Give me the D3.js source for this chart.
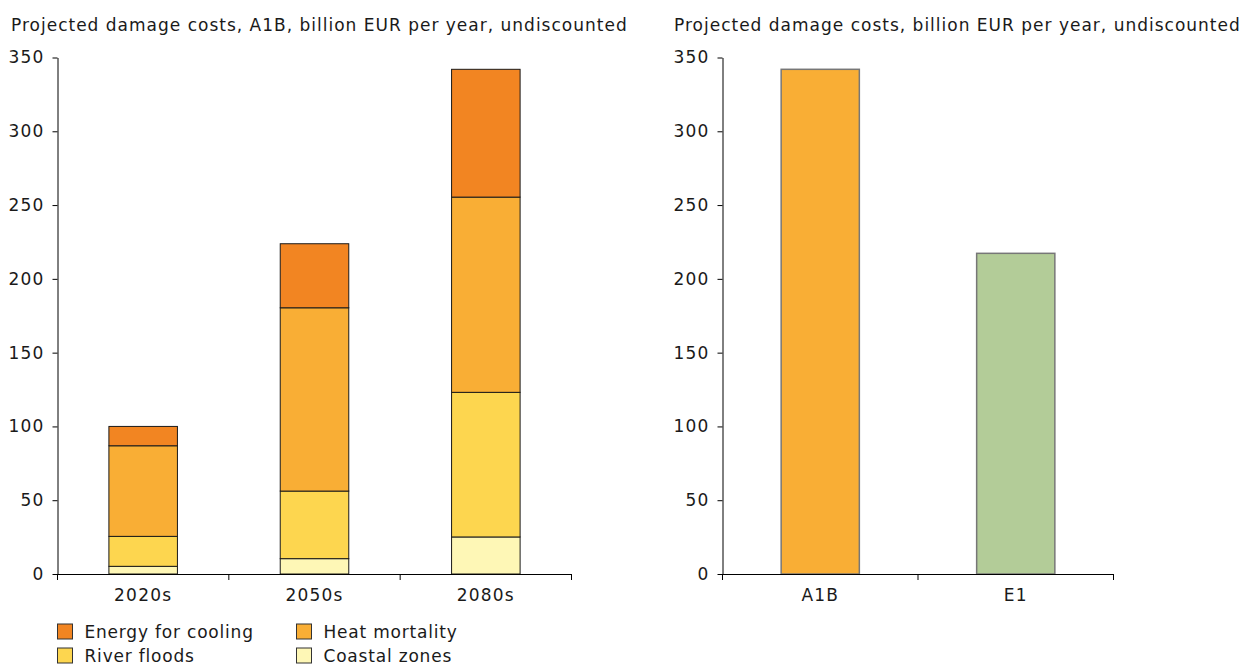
<!DOCTYPE html>
<html>
<head>
<meta charset="utf-8">
<script src="https://cdn.jsdelivr.net/npm/d3@7"></script>
<style>
  body { margin: 0; background: #fff; }
  svg text { font-family: "DejaVu Sans", Verdana, sans-serif; fill: #1a1a1a; font-size: 17px; }
  .axis path, .axis line { stroke: #000; }
  .tick text { letter-spacing: 1.2px; }
  .titulo { letter-spacing: 1px; }
  .ley text { letter-spacing: 0.8px; }
</style>
</head>
<body>
<div id="graf"></div>
<script>
// datos
periodos = ['2020s', '2050s', '2080s']
sectores = ['Coastal zones', 'River floods', 'Heat mortality', 'Energy for cooling']
coastal = [5.2, 10.4, 25.1]
river = [20.3, 45.8, 98.0]
heat = [61.4, 124.2, 132.3]
energy = [13.1, 43.4, 86.6]
colores = ['#fef7b6', '#fdd64f', '#f9ae35', '#f28522']

escenarios = ['A1B', 'E1']
totales = [342, 217.3]
colores_esc = ['#f9ae35', '#b3cc98']

ticks_y = [0, 50, 100, 150, 200, 250, 300, 350]
leyenda = ['Energy for cooling', 'Heat mortality', 'River floods', 'Coastal zones']

ancho_total = 1241
alto_total = 668

svg = d3.select('#graf').append('svg')
        .attr('width', ancho_total)
        .attr('height', alto_total)

y = d3.scaleLinear().domain([0, 350]).range([574, 57.5])

// GRAFICO IZQUIERDO (apilado)
tabla = periodos.map((p, i) => ({
  periodo: p,
  'Coastal zones': coastal[i],
  'River floods': river[i],
  'Heat mortality': heat[i],
  'Energy for cooling': energy[i]
}))
pila = d3.stack().keys(sectores)(tabla)

x1 = d3.scaleBand().domain(periodos).range([57.5, 571.5])

g1 = svg.append('g')

g1.selectAll('g.serie')
  .data(pila)
  .enter().append('g')
  .attr('class', 'serie')
  .attr('fill', (d, i) => colores[i])
  .selectAll('rect')
  .data(d => d)
  .enter().append('rect')
  .attr('x', d => x1(d.data.periodo) + x1.bandwidth() * 0.3)
  .attr('width', x1.bandwidth() * 0.4)
  .attr('y', d => y(d[1]))
  .attr('height', d => y(d[0]) - y(d[1]))
  .attr('stroke', '#1a1a1a')
  .attr('stroke-width', 1)

g1.append('g')
  .attr('class', 'axis')
  .attr('transform', 'translate(57.5,0)')
  .call(d3.axisLeft(y).tickValues(ticks_y).tickSize(5).tickSizeOuter(0))
  .call(a => a.selectAll('text').attr('x', -13))

ejeX1 = g1.append('g')
  .attr('class', 'axis')
  .attr('transform', 'translate(0,574)')
  .call(d3.axisBottom(x1).tickSize(0).tickSizeOuter(0))
ejeX1.selectAll('text').attr('y', 15)
ejeX1.selectAll('.lim')
  .data(d3.range(periodos.length + 1))
  .enter().append('line')
  .attr('x1', i => 57.5 + i * x1.step())
  .attr('x2', i => 57.5 + i * x1.step())
  .attr('y1', 0).attr('y2', 6)
  .attr('stroke', '#000')

g1.append('text')
  .attr('class', 'titulo')
  .attr('x', 11).attr('y', 31)
  .text('Projected damage costs, A1B, billion EUR per year, undiscounted')

// LEYENDA
ley = g1.selectAll('g.ley')
  .data(leyenda)
  .enter().append('g')
  .attr('class', 'ley')
  .attr('transform', (d, i) => `translate(${57.5 + (i % 2) * 239},${624 + Math.floor(i / 2) * 24})`)
ley.append('rect')
  .attr('width', 15).attr('height', 15)
  .attr('fill', d => colores[sectores.indexOf(d)])
  .attr('stroke', '#333')
ley.append('text')
  .attr('x', 27).attr('y', 14)
  .text(d => d)

// GRAFICO DERECHO
x2 = d3.scaleBand().domain(escenarios).range([722.5, 1113.5])
g2 = svg.append('g')

g2.selectAll('rect')
  .data(escenarios)
  .enter().append('rect')
  .attr('x', d => x2(d) + x2.bandwidth() * 0.3)
  .attr('width', x2.bandwidth() * 0.4)
  .attr('y', (d, i) => y(totales[i]))
  .attr('height', (d, i) => y(0) - y(totales[i]))
  .attr('fill', (d, i) => colores_esc[i])
  .attr('stroke', '#777')
  .attr('stroke-width', 1.5)

g2.append('g')
  .attr('class', 'axis')
  .attr('transform', 'translate(722.5,0)')
  .call(d3.axisLeft(y).tickValues(ticks_y).tickSize(5).tickSizeOuter(0))
  .call(a => a.selectAll('text').attr('x', -13))

ejeX2 = g2.append('g')
  .attr('class', 'axis')
  .attr('transform', 'translate(0,574)')
  .call(d3.axisBottom(x2).tickSize(0).tickSizeOuter(0))
ejeX2.selectAll('text').attr('y', 15)
ejeX2.selectAll('.lim')
  .data(d3.range(escenarios.length + 1))
  .enter().append('line')
  .attr('x1', i => 722.5 + i * x2.step())
  .attr('x2', i => 722.5 + i * x2.step())
  .attr('y1', 0).attr('y2', 6)
  .attr('stroke', '#000')

g2.append('text')
  .attr('class', 'titulo')
  .attr('x', 674).attr('y', 31)
  .text('Projected damage costs, billion EUR per year, undiscounted')
</script>
</body>
</html>
